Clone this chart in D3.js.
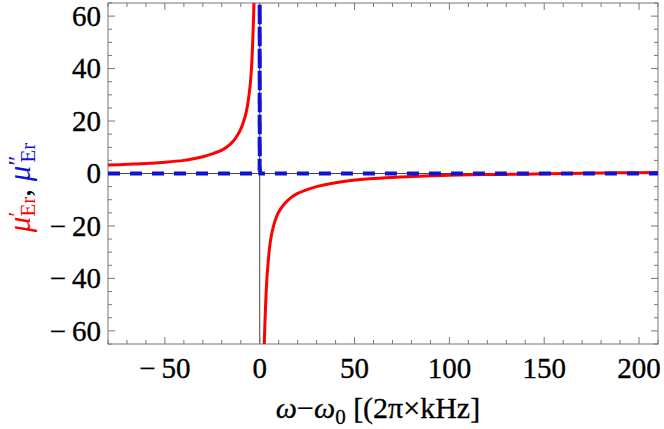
<!DOCTYPE html>
<html>
<head>
<meta charset="utf-8">
<script src="https://cdn.jsdelivr.net/npm/d3@7"></script>
<style>
  body { margin: 0; background: #fff; }
</style>
</head>
<body>
<div id="chart"></div>
<script>
// values
const redLeftX  = [-80, -70, -60, -50, -40, -35, -30, -25, -20, -17, -14, -12, -10, -8.5, -7, -6, -5, -4.5, -4, -3.5, -3, -2.7];
const redLeftY  = [3.2, 3.5, 3.8, 4.3, 5.0, 5.6, 6.4, 7.5, 8.9, 10.3, 12.3, 14.3, 16.9, 19.8, 23.8, 28, 34, 38.5, 45, 54, 66, 76];
const redRightX = [2.2, 2.4, 2.8, 3.2, 3.7, 4.2, 4.8, 5.4, 6.5, 8.1, 10, 13.3, 17, 20, 23.9, 30, 37, 48, 60, 74, 87, 100, 120, 135, 150, 170, 190, 210];
const redRightY = [-75, -65.5, -56, -48.5, -41, -36, -31, -27, -22.3, -18, -14.7, -11.3, -8.9, -7.6, -6.4, -5, -3.9, -2.7, -1.9, -1.3, -0.95, -0.65, -0.4, -0.3, -0.1, 0.1, 0.25, 0.4];
const blueX = [-80, -0.3, -0.05, 0, 0.05, 0.3, 210];
const blueY = [0, 0, 2, 90, 2, 0, 0];
const xTicks = [-50, 0, 50, 100, 150, 200];
const yTicks = [-60, -40, -20, 0, 20, 40, 60];

const W = 664, H = 429;
const margin = { top: 3, right: 6, bottom: 85, left: 108 };
const serif = "'Liberation Serif', 'Times New Roman', Times, 'DejaVu Serif', serif";

const svg = d3.select("#chart").append("svg")
  .attr("width", W).attr("height", H)
  .style("font-family", serif);

const x = d3.scaleLinear().domain([-80, 210]).range([margin.left, W - margin.right]);
const y = d3.scaleLinear().domain([-65, 65]).range([H - margin.bottom, margin.top]);

const x0 = x.range()[0], x1 = x.range()[1], y0 = y.range()[0], y1 = y.range()[1];

svg.append("clipPath").attr("id", "plotClip")
  .append("rect").attr("x", x0).attr("y", y1).attr("width", x1 - x0).attr("height", y0 - y1);

// zero axes
svg.append("line").attr("x1", x0).attr("x2", x1).attr("y1", y(0)).attr("y2", y(0))
  .attr("stroke", "#444").attr("stroke-width", 1);
svg.append("line").attr("x1", x(0)).attr("x2", x(0)).attr("y1", y0).attr("y2", y1)
  .attr("stroke", "#444").attr("stroke-width", 1);

// frame ticks, inward on all four sides
const frameColor = "#777";
const xMinor = d3.range(-80, 211, 10).filter(v => v % 50 !== 0);
const yMinor = d3.range(-65, 66, 5).filter(v => v % 20 !== 0);
const ticksG = svg.append("g").attr("stroke", frameColor).attr("stroke-width", 1);

function xTickLines(vals, len) {
  vals.forEach(v => {
    ticksG.append("line").attr("x1", x(v)).attr("x2", x(v)).attr("y1", y0).attr("y2", y0 - len);
    ticksG.append("line").attr("x1", x(v)).attr("x2", x(v)).attr("y1", y1).attr("y2", y1 + len);
  });
}
function yTickLines(vals, len) {
  vals.forEach(v => {
    ticksG.append("line").attr("y1", y(v)).attr("y2", y(v)).attr("x1", x0).attr("x2", x0 + len);
    ticksG.append("line").attr("y1", y(v)).attr("y2", y(v)).attr("x1", x1).attr("x2", x1 - len);
  });
}
xTickLines(xTicks, 7); xTickLines(xMinor, 4);
yTickLines(yTicks, 7); yTickLines(yMinor, 4);

svg.append("rect").attr("x", x0).attr("y", y1).attr("width", x1 - x0).attr("height", y0 - y1)
  .attr("fill", "none").attr("stroke", frameColor).attr("stroke-width", 1);

// tick labels
const fmt = d => (d < 0 ? "\u2212\u2009" + Math.abs(d) : String(d));
const labelStyle = sel => sel.attr("font-size", 29).attr("stroke", "#000").attr("stroke-width", 0.35);
svg.append("g").selectAll("text").data(xTicks).join("text")
  .attr("x", d => x(d)).attr("y", y0 + 34)
  .attr("text-anchor", "middle").call(labelStyle)
  .text(fmt);
svg.append("g").selectAll("text").data(yTicks).join("text")
  .attr("x", x0 - 7).attr("y", d => y(d)).attr("dy", "0.34em")
  .attr("text-anchor", "end").call(labelStyle)
  .text(fmt);

// curves
const line = d3.line().x(d => x(d[0])).y(d => y(d[1])).curve(d3.curveCatmullRom.alpha(0.5));
const plot = svg.append("g").attr("clip-path", "url(#plotClip)");

[[redLeftX, redLeftY], [redRightX, redRightY]].forEach(([xs, ys]) => {
  plot.append("path").datum(xs.map((v, i) => [v, ys[i]]))
    .attr("d", line).attr("fill", "none")
    .attr("stroke", "#ff0000").attr("stroke-width", 3).attr("stroke-linejoin", "round");
});

plot.append("path").datum(blueX.map((v, i) => [v, blueY[i]]))
  .attr("d", d3.line().x(d => x(d[0])).y(d => y(d[1])))
  .attr("fill", "none").attr("stroke", "#1212d6").attr("stroke-width", 4)
  .attr("stroke-dasharray", "12,10");

// axis titles
const xl = svg.append("text").attr("x", 378).attr("y", 418)
  .attr("text-anchor", "middle").attr("font-size", 30)
  .attr("stroke", "#000").attr("stroke-width", 0.3);
xl.append("tspan").attr("font-style", "italic").text("ω");
xl.append("tspan").text("−");
xl.append("tspan").attr("font-style", "italic").text("ω");
xl.append("tspan").attr("font-size", 21).attr("dy", 6).text("0");
xl.append("tspan").attr("dy", -6).text(" [(2π×kHz]");

const yl = svg.append("text")
  .attr("transform", `translate(30,${(y0 + y1) / 2 + 14}) rotate(-90)`)
  .attr("text-anchor", "middle").attr("font-size", 31);
yl.append("tspan").attr("fill", "#ff0000").attr("font-style", "italic").text("μ");
yl.append("tspan").attr("fill", "#ff0000").attr("font-size", 24).attr("dy", -6).text("′");
yl.append("tspan").attr("fill", "#ff0000").attr("font-size", 21).attr("dx", -5).attr("dy", 11).text("Er");
yl.append("tspan").attr("fill", "#000").attr("dy", -5).text(", ");
yl.append("tspan").attr("fill", "#1212d6").attr("font-style", "italic").text("μ");
yl.append("tspan").attr("fill", "#1212d6").attr("font-size", 24).attr("dy", -6).text("″");
yl.append("tspan").attr("fill", "#1212d6").attr("font-size", 21).attr("dx", -7).attr("dy", 11).text("Er");
</script>
</body>
</html>
